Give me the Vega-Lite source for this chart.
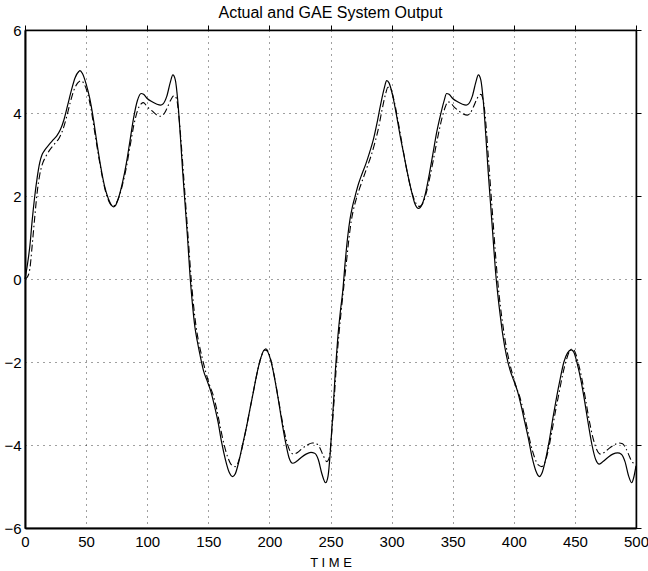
{
  "$schema": "https://vega.github.io/schema/vega-lite/v6.json",
  "width": 611,
  "height": 498,
  "autosize": {"type": "none"},
  "padding": {"left": 25, "top": 30, "right": 12, "bottom": 43},
  "background": "white",
  "title": {"text": "Actual and GAE System Output", "font": "Liberation Sans", "fontSize": 16, "fontWeight": "normal", "color": "black", "offset": 2, "anchor": "middle"},
  "config": {
    "view": {"stroke": "black", "strokeWidth": 1.2},
    "axis": {"labelFont": "Liberation Sans", "titleFont": "Liberation Sans", "labelColor": "black", "titleColor": "black", "domainColor": "black", "tickColor": "black", "gridColor": "#000000", "gridOpacity": 0.75, "gridDash": [1, 5], "gridWidth": 1}
  },
  "datasets": {
    "actual": [
      {"t":0,"v":0},{"t":2,"v":0.35},{"t":4,"v":0.8},{"t":6,"v":1.45},{"t":8,"v":2.0},{"t":10,"v":2.45},{"t":12,"v":2.8},{"t":14,"v":3.0},{"t":16,"v":3.1},{"t":20,"v":3.25},{"t":23,"v":3.35},{"t":26,"v":3.45},{"t":29,"v":3.6},{"t":32,"v":3.85},{"t":35,"v":4.2},{"t":38,"v":4.55},{"t":41,"v":4.85},{"t":44,"v":5.0},{"t":45,"v":5.02},{"t":47,"v":4.95},{"t":50,"v":4.7},{"t":53,"v":4.35},{"t":56,"v":3.85},{"t":59,"v":3.25},{"t":62,"v":2.7},{"t":65,"v":2.25},{"t":68,"v":1.95},{"t":71,"v":1.77},{"t":72.5,"v":1.74},{"t":74,"v":1.77},{"t":77,"v":2.0},{"t":80,"v":2.35},{"t":83,"v":2.8},{"t":86,"v":3.35},{"t":89,"v":3.9},{"t":92,"v":4.3},{"t":95,"v":4.47},{"t":97,"v":4.45},{"t":100,"v":4.35},{"t":104,"v":4.27},{"t":108,"v":4.21},{"t":111,"v":4.19},{"t":113,"v":4.22},{"t":116,"v":4.4},{"t":119,"v":4.75},{"t":121,"v":4.92},{"t":123,"v":4.8},{"t":125,"v":4.3},{"t":127,"v":3.5},{"t":129,"v":2.6},{"t":131,"v":1.8},{"t":133,"v":1.0},{"t":135,"v":0.1},{"t":137,"v":-0.6},{"t":139,"v":-1.15},{"t":141,"v":-1.5},{"t":143,"v":-1.8},{"t":146,"v":-2.2},{"t":149,"v":-2.45},{"t":152,"v":-2.7},{"t":155,"v":-3.05},{"t":158,"v":-3.45},{"t":161,"v":-3.95},{"t":164,"v":-4.35},{"t":167,"v":-4.65},{"t":170,"v":-4.76},{"t":172,"v":-4.7},{"t":175,"v":-4.4},{"t":178,"v":-4.0},{"t":181,"v":-3.6},{"t":184,"v":-3.15},{"t":187,"v":-2.7},{"t":190,"v":-2.25},{"t":193,"v":-1.9},{"t":196,"v":-1.71},{"t":198,"v":-1.73},{"t":201,"v":-1.95},{"t":204,"v":-2.35},{"t":207,"v":-2.85},{"t":210,"v":-3.4},{"t":213,"v":-3.9},{"t":216,"v":-4.3},{"t":219,"v":-4.44},{"t":222,"v":-4.4},{"t":226,"v":-4.3},{"t":230,"v":-4.22},{"t":234,"v":-4.18},{"t":237,"v":-4.2},{"t":240,"v":-4.35},{"t":243,"v":-4.7},{"t":246,"v":-4.91},{"t":248,"v":-4.75},{"t":250,"v":-4.1},{"t":252,"v":-3.2},{"t":254,"v":-2.2},{"t":256,"v":-1.4},{"t":258,"v":-0.8},{"t":260,"v":-0.3},{"t":262,"v":0.4},{"t":264,"v":1.0},{"t":266,"v":1.45},{"t":268,"v":1.75},{"t":270,"v":1.98},{"t":273,"v":2.3},{"t":276,"v":2.55},{"t":279,"v":2.78},{"t":282,"v":3.05},{"t":285,"v":3.35},{"t":288,"v":3.75},{"t":291,"v":4.2},{"t":294,"v":4.6},{"t":296,"v":4.78},{"t":298,"v":4.72},{"t":301,"v":4.4},{"t":304,"v":3.95},{"t":307,"v":3.45},{"t":310,"v":3.0},{"t":313,"v":2.55},{"t":316,"v":2.15},{"t":319,"v":1.82},{"t":322,"v":1.7},{"t":325,"v":1.8},{"t":328,"v":2.1},{"t":331,"v":2.55},{"t":334,"v":3.05},{"t":337,"v":3.55},{"t":340,"v":3.95},{"t":343,"v":4.3},{"t":345,"v":4.47},{"t":347,"v":4.45},{"t":350,"v":4.35},{"t":354,"v":4.27},{"t":358,"v":4.21},{"t":361,"v":4.19},{"t":363,"v":4.22},{"t":366,"v":4.4},{"t":369,"v":4.75},{"t":371,"v":4.92},{"t":373,"v":4.8},{"t":375,"v":4.3},{"t":377,"v":3.5},{"t":379,"v":2.6},{"t":381,"v":1.8},{"t":383,"v":1.0},{"t":385,"v":0.2},{"t":387,"v":-0.4},{"t":389,"v":-0.9},{"t":391,"v":-1.35},{"t":394,"v":-1.85},{"t":397,"v":-2.2},{"t":400,"v":-2.45},{"t":403,"v":-2.7},{"t":406,"v":-3.05},{"t":409,"v":-3.45},{"t":412,"v":-3.85},{"t":415,"v":-4.3},{"t":418,"v":-4.62},{"t":421,"v":-4.76},{"t":423,"v":-4.68},{"t":426,"v":-4.35},{"t":429,"v":-3.9},{"t":432,"v":-3.35},{"t":435,"v":-2.85},{"t":438,"v":-2.4},{"t":441,"v":-2.0},{"t":444,"v":-1.78},{"t":447,"v":-1.71},{"t":449,"v":-1.76},{"t":452,"v":-2.05},{"t":455,"v":-2.45},{"t":458,"v":-2.95},{"t":461,"v":-3.5},{"t":464,"v":-4.0},{"t":467,"v":-4.35},{"t":470,"v":-4.46},{"t":473,"v":-4.4},{"t":477,"v":-4.3},{"t":481,"v":-4.22},{"t":485,"v":-4.19},{"t":488,"v":-4.22},{"t":491,"v":-4.4},{"t":494,"v":-4.75},{"t":496.5,"v":-4.91},{"t":498,"v":-4.8},{"t":500,"v":-4.5}
    ],
    "gae": [
      {"t":0,"v":0},{"t":2,"v":0.05},{"t":4,"v":0.25},{"t":6,"v":0.85},{"t":8,"v":1.5},{"t":10,"v":2.1},{"t":12,"v":2.5},{"t":14,"v":2.75},{"t":17,"v":2.95},{"t":20,"v":3.1},{"t":24,"v":3.25},{"t":28,"v":3.4},{"t":31,"v":3.6},{"t":34,"v":3.9},{"t":37,"v":4.25},{"t":40,"v":4.55},{"t":43,"v":4.72},{"t":46,"v":4.78},{"t":48,"v":4.72},{"t":51,"v":4.5},{"t":54,"v":4.1},{"t":57,"v":3.55},{"t":60,"v":3.0},{"t":63,"v":2.5},{"t":66,"v":2.1},{"t":69,"v":1.85},{"t":72,"v":1.75},{"t":74,"v":1.8},{"t":77,"v":1.98},{"t":80,"v":2.3},{"t":83,"v":2.7},{"t":86,"v":3.2},{"t":89,"v":3.7},{"t":92,"v":4.05},{"t":95,"v":4.22},{"t":97,"v":4.25},{"t":100,"v":4.15},{"t":104,"v":4.05},{"t":108,"v":3.95},{"t":111,"v":3.92},{"t":113,"v":3.95},{"t":116,"v":4.1},{"t":119,"v":4.3},{"t":122,"v":4.42},{"t":124,"v":4.35},{"t":126,"v":3.9},{"t":128,"v":3.2},{"t":130,"v":2.4},{"t":132,"v":1.6},{"t":134,"v":0.8},{"t":136,"v":0.0},{"t":138,"v":-0.65},{"t":140,"v":-1.15},{"t":142,"v":-1.5},{"t":145,"v":-1.9},{"t":148,"v":-2.25},{"t":151,"v":-2.55},{"t":154,"v":-2.8},{"t":157,"v":-3.15},{"t":160,"v":-3.6},{"t":163,"v":-4.0},{"t":166,"v":-4.3},{"t":169,"v":-4.48},{"t":172,"v":-4.52},{"t":174,"v":-4.45},{"t":177,"v":-4.15},{"t":180,"v":-3.75},{"t":183,"v":-3.3},{"t":186,"v":-2.85},{"t":189,"v":-2.4},{"t":192,"v":-2.0},{"t":195,"v":-1.75},{"t":197,"v":-1.68},{"t":199,"v":-1.75},{"t":202,"v":-2.05},{"t":205,"v":-2.5},{"t":208,"v":-3.0},{"t":211,"v":-3.5},{"t":214,"v":-3.9},{"t":217,"v":-4.15},{"t":220,"v":-4.22},{"t":223,"v":-4.18},{"t":227,"v":-4.08},{"t":231,"v":-4.0},{"t":235,"v":-3.95},{"t":238,"v":-3.96},{"t":241,"v":-4.05},{"t":244,"v":-4.25},{"t":247,"v":-4.4},{"t":249,"v":-4.3},{"t":251,"v":-3.7},{"t":253,"v":-2.9},{"t":255,"v":-2.0},{"t":257,"v":-1.3},{"t":259,"v":-0.7},{"t":261,"v":-0.15},{"t":263,"v":0.4},{"t":265,"v":0.95},{"t":267,"v":1.4},{"t":269,"v":1.7},{"t":271,"v":1.92},{"t":274,"v":2.2},{"t":277,"v":2.45},{"t":280,"v":2.7},{"t":283,"v":2.95},{"t":286,"v":3.25},{"t":289,"v":3.6},{"t":292,"v":4.05},{"t":295,"v":4.45},{"t":297,"v":4.62},{"t":299,"v":4.6},{"t":302,"v":4.3},{"t":305,"v":3.85},{"t":308,"v":3.35},{"t":311,"v":2.85},{"t":314,"v":2.4},{"t":317,"v":2.05},{"t":320,"v":1.82},{"t":323,"v":1.75},{"t":326,"v":1.85},{"t":329,"v":2.15},{"t":332,"v":2.55},{"t":335,"v":3.0},{"t":338,"v":3.45},{"t":341,"v":3.85},{"t":344,"v":4.15},{"t":346,"v":4.27},{"t":348,"v":4.25},{"t":351,"v":4.15},{"t":355,"v":4.05},{"t":359,"v":3.97},{"t":362,"v":3.95},{"t":364,"v":3.98},{"t":367,"v":4.15},{"t":370,"v":4.35},{"t":373,"v":4.45},{"t":375,"v":4.3},{"t":377,"v":3.8},{"t":379,"v":3.0},{"t":381,"v":2.2},{"t":383,"v":1.4},{"t":385,"v":0.6},{"t":387,"v":-0.1},{"t":389,"v":-0.65},{"t":391,"v":-1.1},{"t":393,"v":-1.5},{"t":396,"v":-1.95},{"t":399,"v":-2.3},{"t":402,"v":-2.6},{"t":405,"v":-2.85},{"t":408,"v":-3.2},{"t":411,"v":-3.6},{"t":414,"v":-4.0},{"t":417,"v":-4.3},{"t":420,"v":-4.48},{"t":423,"v":-4.52},{"t":425,"v":-4.45},{"t":428,"v":-4.15},{"t":431,"v":-3.7},{"t":434,"v":-3.2},{"t":437,"v":-2.75},{"t":440,"v":-2.3},{"t":443,"v":-1.95},{"t":446,"v":-1.72},{"t":448,"v":-1.68},{"t":450,"v":-1.75},{"t":453,"v":-2.05},{"t":456,"v":-2.45},{"t":459,"v":-2.95},{"t":462,"v":-3.45},{"t":465,"v":-3.85},{"t":468,"v":-4.12},{"t":471,"v":-4.22},{"t":474,"v":-4.18},{"t":478,"v":-4.08},{"t":482,"v":-4.0},{"t":486,"v":-3.95},{"t":489,"v":-3.97},{"t":492,"v":-4.1},{"t":495,"v":-4.3},{"t":497,"v":-4.42},{"t":500,"v":-4.44}
    ]
  },
  "resolve": {"axis": {"x": "independent", "y": "independent"}},
  "layer": [
    {
      "data": {"name": "actual"},
      "mark": {"type": "line", "color": "black", "strokeWidth": 1.2, "interpolate": "monotone"},
      "encoding": {
        "x": {"field": "t", "type": "quantitative", "scale": {"domain": [0, 500], "nice": false, "zero": false},
              "axis": {"orient": "bottom", "values": [0,50,100,150,200,250,300,350,400,450,500], "title": "T I M E", "titleFontSize": 13, "titleFontWeight": "normal", "titlePadding": 7, "labelFontSize": 15, "labelPadding": 6, "tickSize": 0, "domainWidth": 2, "grid": true, "labelFlush": false}},
        "y": {"field": "v", "type": "quantitative", "scale": {"domain": [-6, 6], "nice": false, "zero": false},
              "axis": {"orient": "left", "values": [-6,-4,-2,0,2,4,6], "title": null, "labelFontSize": 15, "labelPadding": 4, "tickSize": 0, "domainWidth": 2, "grid": true, "labelFlush": false, "labelExpr": "replace(datum.label, '-', '\u2212')"}}
      }
    },
    {
      "data": {"name": "gae"},
      "mark": {"type": "line", "color": "black", "strokeWidth": 1.1, "strokeDash": [7, 3, 1.5, 3], "interpolate": "monotone"},
      "encoding": {
        "x": {"field": "t", "type": "quantitative",
              "axis": {"orient": "top", "values": [0,50,100,150,200,250,300,350,400,450,500], "title": null, "labels": false, "tickSize": 5, "domainWidth": 1.5, "grid": false}},
        "y": {"field": "v", "type": "quantitative",
              "axis": {"orient": "right", "values": [-6,-4,-2,0,2,4,6], "title": null, "labels": false, "tickSize": 5, "domainWidth": 1.5, "grid": false}}
      }
    }
  ]
}
